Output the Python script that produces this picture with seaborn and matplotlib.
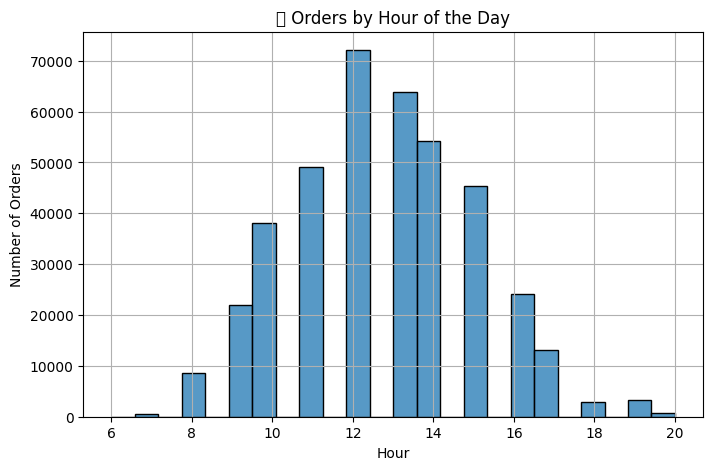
import pandas as pd
import matplotlib
matplotlib.use('Agg')
import matplotlib.pyplot as plt
import seaborn as sns

# Orders per hour of the day
hours = [6, 7, 8, 9, 10, 11, 12, 13, 14, 15, 16, 17, 18, 19, 20]
orders = [30, 450, 8630, 21950, 38050, 49050, 72100, 63900, 54150, 45300,
          24100, 13150, 2880, 3220, 720]

df = pd.DataFrame({'Hour': hours, 'Orders': orders})

plt.figure(figsize=(8, 5))
sns.histplot(data=df, x='Hour', weights='Orders', bins=24, edgecolor='black')
plt.title('📊 Orders by Hour of the Day')
plt.xlabel('Hour')
plt.ylabel('Number of Orders')
plt.grid(True)
plt.savefig('out.png', dpi=100, bbox_inches='tight')
